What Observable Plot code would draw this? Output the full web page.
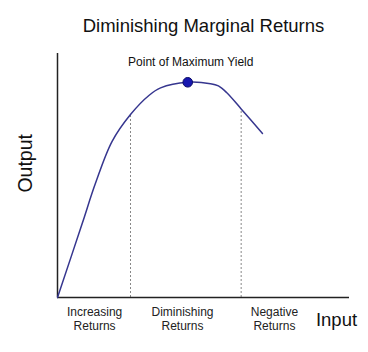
<!DOCTYPE html>
<html>
<head>
<meta charset="utf-8">
<script src="https://cdn.jsdelivr.net/npm/d3@7"></script>
<script src="https://cdn.jsdelivr.net/npm/@observablehq/plot@0.6"></script>
<style>
  html, body { margin: 0; padding: 0; background: #fff; }
  svg { display: block; }
</style>
</head>
<body>
<div id="chart"></div>
<script>
// Production curve (input vs output, arbitrary units 0–100)
const inputs  = [0, 8.46, 13.0, 18.7, 25.0, 31.3, 35.3, 44.6, 52.4, 55.1, 57.9, 62.9, 70.2];
const outputs = [0, 30.3, 46.8, 64.0, 75.0, 82.8, 85.9, 88.2, 87.6, 86.7, 84.0, 77.3, 67.2];

// Point of maximum yield
const peakInput = [44.6];
const peakOutput = [88.2];
const peakLabel = ["Point of Maximum Yield"];

// Stage boundaries
const dividerInput = [25.0, 62.9];
const dividerOutput = [75.0, 76.5];

// Stage labels
const stageLabels = ["Increasing\nReturns", "Diminishing\nReturns", "Negative\nReturns"];
const stageCenters = [12.7, 42.8, 74.3];

const title = "Diminishing Marginal Returns";
const xLabel = "Input";
const yLabel = "Output";

const curve = inputs.map((x, i) => ({x, y: outputs[i]}));
const peak = peakInput.map((x, i) => ({x, y: peakOutput[i], label: peakLabel[i]}));
const dividers = dividerInput.map((x, i) => ({x, top: dividerOutput[i]}));
const stages = stageLabels.map((label, i) => ({x: stageCenters[i], label}));

const font = "'Liberation Sans', Arial, Helvetica, sans-serif";

const chart = Plot.plot({
  width: 368,
  height: 352,
  marginLeft: 57,
  marginRight: 19,
  marginTop: 53,
  marginBottom: 55,
  style: {background: "#fff", fontFamily: font},
  x: {domain: [0, 100], axis: null},
  y: {domain: [0, 100], axis: null},
  marks: [
    Plot.ruleX(dividers, {x: "x", y1: 0, y2: "top", stroke: "#888", strokeWidth: 1, strokeDasharray: "2,2"}),
    Plot.ruleX([0], {y1: 0, y2: 100, stroke: "#222", strokeWidth: 1.5}),
    Plot.ruleY([0], {x1: 0, x2: 100, stroke: "#222", strokeWidth: 1.5}),
    Plot.line(curve, {x: "x", y: "y", curve: "catmull-rom", stroke: "#36368f", strokeWidth: 1.5}),
    Plot.dot(peak, {x: "x", y: "y", r: 4.8, fill: "#1717b0", stroke: "#0b0b66", strokeWidth: 1}),
    Plot.text(peak, {x: "x", y: "y", text: "label", dx: 3, dy: -16, lineAnchor: "bottom", fontSize: 12, fill: "#111"}),
    Plot.text(stages, {x: "x", y: 0, text: "label", lineAnchor: "top", dy: 9, fontSize: 12, lineHeight: 1.15, fill: "#222"}),
    Plot.text([title], {frameAnchor: "top", lineAnchor: "bottom", dy: -22, fontSize: 18.5, fill: "#111"}),
    Plot.text([xLabel], {frameAnchor: "bottom-right", lineAnchor: "bottom", textAnchor: "middle", dx: -13, dy: 28, fontSize: 18.5, fill: "#111"}),
    Plot.text([yLabel], {frameAnchor: "left", y: 55, rotate: -90, dx: -32, textAnchor: "middle", lineAnchor: "middle", fontSize: 19.5, fill: "#111"})
  ]
});

document.getElementById("chart").appendChild(chart);
</script>
</body>
</html>
